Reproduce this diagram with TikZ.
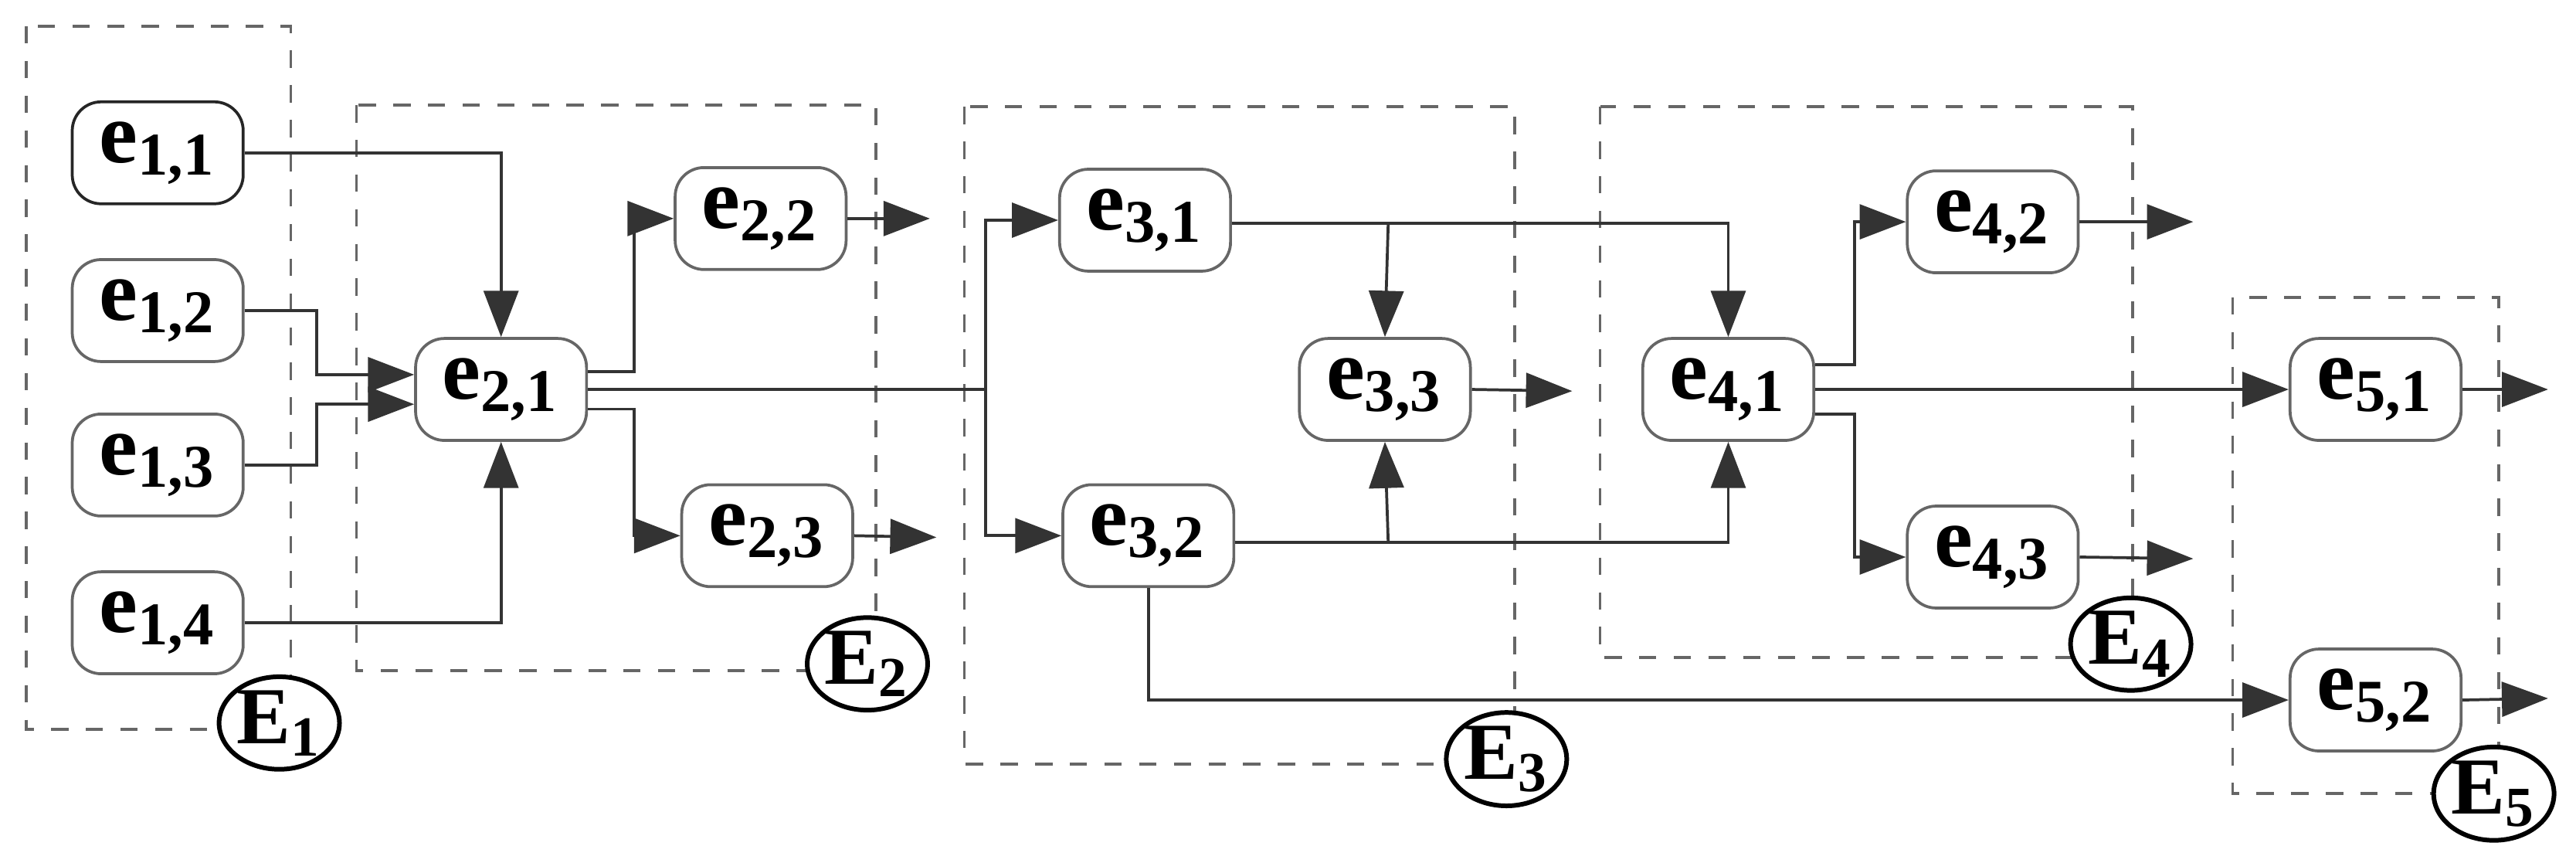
\documentclass[tikz,border=0pt]{standalone}
\usepackage{fontspec}
\setmainfont{Liberation Serif}
\usetikzlibrary{arrows.meta,calc,shapes.geometric}
\begin{document}
\begin{tikzpicture}[x=0.01cm,y=-0.01cm,
  ev/.style={draw=black!60,rounded corners=5pt,minimum width=1.04cm,minimum height=0.62cm,inner sep=0pt,font=\fontsize{15}{17}\selectfont\bfseries,line width=0.5pt},
  grp/.style={draw=black!60,dashed,line width=0.5pt},
  lab/.style={draw=black,ellipse,line width=0.8pt,minimum width=0.62cm,minimum height=0.44cm,inner sep=0pt,fill=white,font=\fontsize{14}{16}\selectfont\bfseries},
  c/.style={draw=black!80,line width=0.5pt},
  a/.style={c,-{Triangle[length=8pt,width=6pt]}}]
\useasboundingbox (0,0) rectangle (1568,525);
\draw[grp] (16,16) rectangle (177,444);
\draw[grp] (217,64) rectangle (533,408);
\draw[grp] (587,65) rectangle (922,465);
\draw[grp] (974,65) rectangle (1298,400);
\draw[grp] (1359,181) rectangle (1521,483);
\node[lab] (E1) at (170,440) {E\textsubscript{1}};
\node[lab] (E2) at (528,404) {E\textsubscript{2}};
\node[lab] (E3) at (917,462) {E\textsubscript{3}};
\node[lab] (E4) at (1297,392) {E\textsubscript{4}};
\node[lab] (E5) at (1518,483) {E\textsubscript{5}};
\node[ev,draw=black!85] (e11) at (96,93) {e\textsubscript{1,1}};
\node[ev] (e12) at (96,189) {e\textsubscript{1,2}};
\node[ev] (e13) at (96,283) {e\textsubscript{1,3}};
\node[ev] (e14) at (96,379) {e\textsubscript{1,4}};
\node[ev] (e21) at (305,237) {e\textsubscript{2,1}};
\node[ev] (e22) at (463,133) {e\textsubscript{2,2}};
\node[ev] (e23) at (467,326) {e\textsubscript{2,3}};
\node[ev] (e31) at (697,134) {e\textsubscript{3,1}};
\node[ev] (e32) at (699,326) {e\textsubscript{3,2}};
\node[ev] (e33) at (843,237) {e\textsubscript{3,3}};
\node[ev] (e41) at (1052,237) {e\textsubscript{4,1}};
\node[ev] (e42) at (1213,135) {e\textsubscript{4,2}};
\node[ev] (e43) at (1213,339) {e\textsubscript{4,3}};
\node[ev] (e51) at (1446,237) {e\textsubscript{5,1}};
\node[ev] (e52) at (1446,426) {e\textsubscript{5,2}};
\coordinate (j1) at (600,237);
\coordinate (o22) at (566,133);
\coordinate (o23) at (570,327);
\coordinate (o33) at (957,238);
\coordinate (o42) at (1335,135);
\coordinate (o43) at (1335,340);
\coordinate (o51) at (1551,237);
\coordinate (o52) at (1551,425);
% E1 -> e21
\draw[a] (e11.east) -| (e21.north);
\draw[a] (e12.east) -- ++(44,0) |- ($(e21.west)+(0,-9)$);
\draw[a] (e13.east) -- ++(44,0) |- ($(e21.west)+(0,9)$);
\draw[a] (e14.east) -| (e21.south);
% e21 out
\draw[a] ($(e21.east)+(0,-11)$) -- ++(28,0) |- (e22.west);
\draw[a] ($(e21.east)+(0,12)$) -- ++(28,0) |- (e23.west);
\draw[a] (e22.east) -- (o22);
\draw[a] (e23.east) -- (o23);
\draw[c] (e21.east) -- (j1);
\draw[a] (j1) |- (e31.west);
\draw[a] (j1) |- (e32.west);
% E3
\draw[a] ($(e31.east)+(0,2)$) -| (e41.north);
\draw[a] (845,136) -- (e33.north);
\draw[a] ($(e32.east)+(0,4)$) -| (e41.south);
\draw[a] (845,330) -- (e33.south);
\draw[a] (e33.east) -- (o33);
\draw[a] (e32.south) |- (e52.west);
% E4
\draw[a] ($(e41.east)+(0,-15)$) -- ++(24,0) |- (e42.west);
\draw[a] ($(e41.east)+(0,15)$) -- ++(24,0) |- (e43.west);
\draw[a] (e41.east) -- (e51.west);
\draw[a] (e42.east) -- (o42);
\draw[a] (e43.east) -- (o43);
\draw[a] (e51.east) -- (o51);
\draw[a] (e52.east) -- (o52);
\end{tikzpicture}
\end{document}
